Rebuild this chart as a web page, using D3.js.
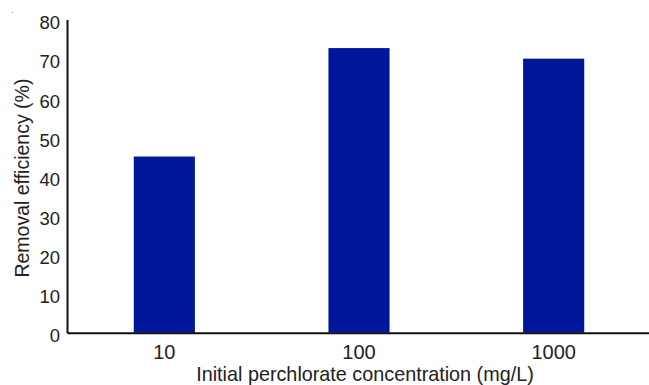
<html>
<head>
<meta charset="utf-8">
<style>
body { margin: 0; background: #fff; }
text { font-family: "Liberation Sans", Arial, sans-serif; fill: #222; }
</style>
</head>
<body>
<div id="chart"></div>
<script src="https://d3js.org/d3.v7.min.js"></script>
<script>

// data
const concentrations = ["10", "100", "1000"];
const removal = [45, 72.7, 70];
const yTicks = [0, 10, 20, 30, 40, 50, 60, 70, 80];

const W = 649, H = 385;
const x0 = 67, x1 = 651, yTop = 19.5, yBot = 332.7;

const svg = d3.select("#chart")
  .append("svg")
    .attr("width", W)
    .attr("height", H);

const x = d3.scaleBand()
    .domain(concentrations)
    .range([x0, x1])
    .paddingInner(0.686)
    .paddingOuter(0.343);

const y = d3.scaleLinear()
    .domain([0, 80])
    .range([yBot, yTop]);

// bars
svg.append("g")
  .selectAll("rect")
  .data(concentrations)
  .join("rect")
    .attr("x", d => x(d))
    .attr("y", (d, i) => y(removal[i]))
    .attr("width", x.bandwidth())
    .attr("height", (d, i) => y(0) - y(removal[i]))
    .attr("fill", "#00179b");

// Y axis, no tick marks
const yAxis = svg.append("g")
    .attr("transform", `translate(${x0},0)`)
    .call(d3.axisLeft(y).tickValues(yTicks).tickSize(0).tickPadding(7));
yAxis.select(".domain").attr("stroke", "#111").attr("stroke-width", 2);
yAxis.selectAll("text")
    .style("font-size", "18.5px")
    .style("font-family", "Liberation Sans, Arial, sans-serif")
    .attr("fill", "#222")
    .attr("dy", "0.5em");

// X axis
const xAxis = svg.append("g")
    .attr("transform", `translate(0,${yBot})`)
    .call(d3.axisBottom(x).tickSize(0).tickPadding(12).tickSizeOuter(0));
xAxis.select(".domain").attr("stroke", "#111").attr("stroke-width", 2);
xAxis.selectAll("text")
    .style("font-size", "20px")
    .style("font-family", "Liberation Sans, Arial, sans-serif")
    .attr("fill", "#222");

// axis titles
svg.append("text")
    .attr("x", 365)
    .attr("y", 380.5)
    .attr("text-anchor", "middle")
    .style("font-size", "19.8px")
    .text("Initial perchlorate concentration (mg/L)");

svg.append("text")
    .attr("transform", `translate(29,${(yTop + yBot) / 2 + 2}) rotate(-90)`)
    .attr("text-anchor", "middle")
    .style("font-size", "19.5px")
    .text("Removal efficiency (%)");

// stray speck at top-left of the source figure
svg.append("rect")
    .attr("x", 12).attr("y", 12)
    .attr("width", 1).attr("height", 1)
    .attr("fill", "#888");

</script>
</body>
</html>
